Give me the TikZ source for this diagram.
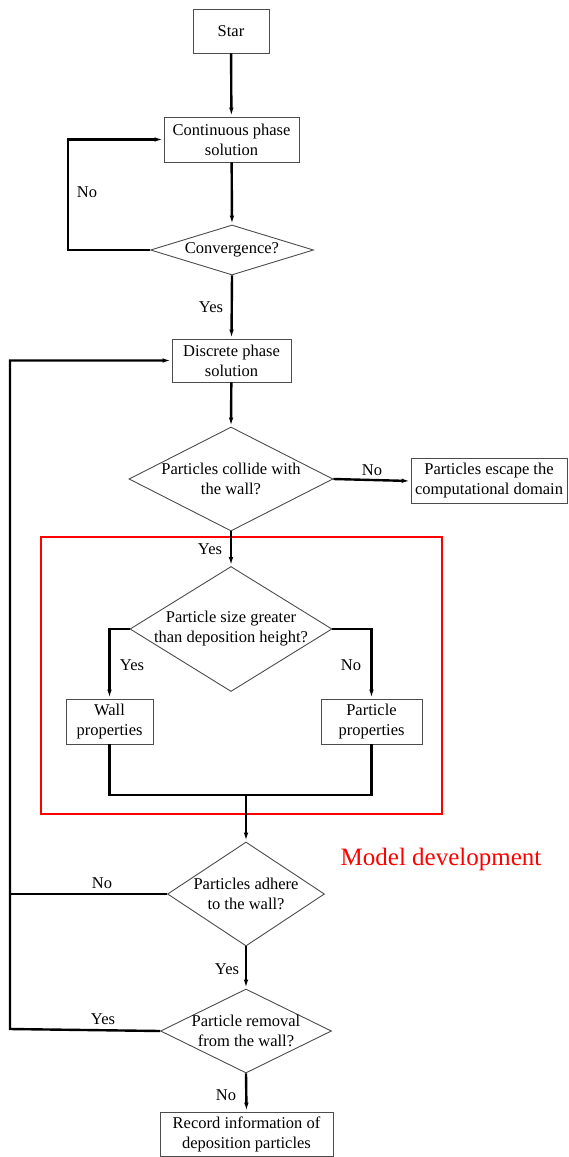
\documentclass[tikz,border=0pt]{standalone}
\usepackage{fontspec}
\setmainfont{Liberation Serif}
\usetikzlibrary{arrows.meta,shapes.geometric}
\tikzset{
  box/.style={draw=gray!60!black, line width=0.9pt, inner sep=0pt, align=center},
  dec/.style={diamond, draw=gray!60!black, line width=0.9pt, inner sep=0pt},
  txt/.style={align=center, inner sep=0pt},
  line/.style={line width=2.4pt},
  arr/.style={line width=2.4pt, -{Latex[length=9pt,width=4.5pt]}},
}
\begin{document}
\begin{tikzpicture}[x=1pt,y=-1pt,font=\fontsize{16.5}{20}\selectfont]
    \useasboundingbox (0,0) rectangle (569,1157);
    % boxes
    \node [box, minimum width=76pt, minimum height=44pt] (star) at (231,31) {Star};
    \node [box, minimum width=135pt, minimum height=45pt] (cont) at (231.5,139.5) {Continuous phase\\solution};
    \node [box, minimum width=119pt, minimum height=43pt] (disc) at (231.5,360.5) {Discrete phase\\solution};
    \node [box, minimum width=156pt, minimum height=45pt] (esc) at (489,481) {Particles escape the\\computational domain};
    \node [box, minimum width=87pt, minimum height=45pt] (wall) at (109.5,721.5) {Wall\\properties};
    \node [box, minimum width=101pt, minimum height=45pt] (ppro) at (371.5,721.5) {Particle\\properties};
    \node [box, minimum width=173pt, minimum height=44pt] (rec) at (246.5,1134) {Record information of\\deposition particles};
    % decisions
    \node [dec, minimum width=163pt, minimum height=50pt] (conv) at (232,250) {};
    \node [txt] (convtxt) at (conv) {Convergence?};
    \node [dec, minimum width=204pt, minimum height=104pt] (coll) at (231,479) {};
    \node [txt] (colltxt) at (coll) {Particles collide with\\the wall?};
    \node [dec, minimum width=202pt, minimum height=125pt] (size) at (231,629) {};
    \node [txt] (sizetxt) at (size) {Particle size greater\\than deposition height?};
    \node [dec, minimum width=157pt, minimum height=104pt] (adh) at (246,894) {};
    \node [txt] (adhtxt) at (adh) {Particles adhere\\to the wall?};
    \node [dec, minimum width=171pt, minimum height=84pt] (rem) at (246,1031) {};
    \node [txt] (remtxt) at (rem) {Particle removal\\from the wall?};
    % red frame
    \draw [red, line width=1.6pt] (41,537) rectangle (442,814);
    \node [red, font=\fontsize{25}{30}\selectfont] (model) at (441,859) {Model development};
    % corner points
    \coordinate (nol) at (68,250);
    \coordinate (mrg) at (246,795);
    \coordinate (fbm) at (10,894);
    \coordinate (fbl) at (10,1029);
    % connectors
    \draw [arr] (star) -- (cont);
    \draw [arr] (cont) -- (conv.north);
    \draw [arr] (conv.west) -- (nol) |- (cont.west);
    \draw [arr] (conv.south) -- (disc.north);
    \draw [arr] (disc) -- (coll.north);
    \draw [arr] (coll.east) -- (esc.west);
    \draw [arr] (coll.south) -- (size.north);
    \draw [arr] (size.west) -| (wall.north);
    \draw [arr] (size.east) -| (ppro.north);
    \draw [line] (wall.south) |- (mrg) -| (ppro.south);
    \draw [arr] (mrg) -- (adh.north);
    \draw [line] (adh.west) -- (fbm);
    \draw [arr] (adh.south) -- (rem.north);
    \draw [arr] (rem.west) -- (fbl) |- (disc.west);
    \draw [arr] (rem.south) -- (rec.north);
    % labels
    \node (lno1) at (87,192) {No};
    \node (lyes1) at (211,307) {Yes};
    \node (lno2) at (372,470) {No};
    \node (lyes2) at (210,549) {Yes};
    \node (lyes3) at (132,665) {Yes};
    \node (lno3) at (351,665) {No};
    \node (lno4) at (102,883) {No};
    \node (lyes4) at (227,969) {Yes};
    \node (lyes5) at (103,1019) {Yes};
    \node (lno5) at (226,1095) {No};
  \end{tikzpicture}
\end{document}
